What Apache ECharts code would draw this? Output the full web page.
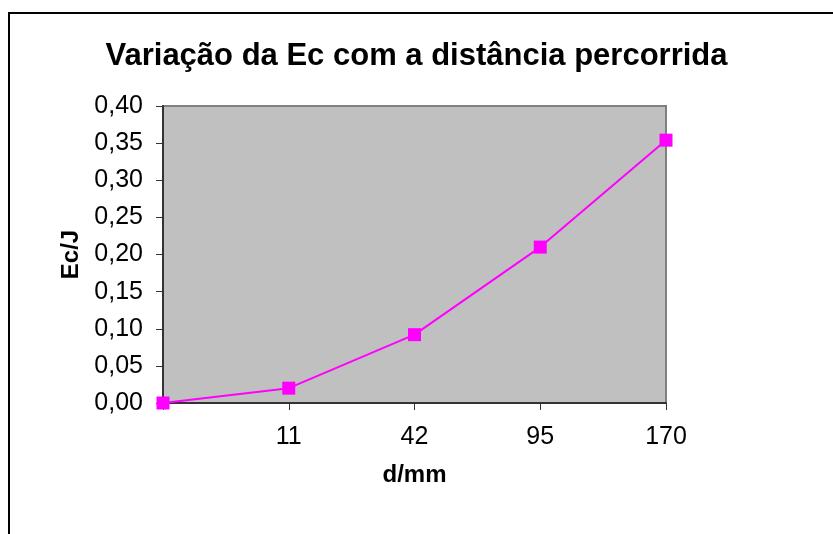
<!DOCTYPE html>
<html><head><meta charset="utf-8">
<script src="https://cdn.jsdelivr.net/npm/echarts@6/dist/echarts.min.js"></script>
<style>html,body{margin:0;padding:0;background:#fff}#c{width:833px;height:534px}</style>
</head><body><div id="c"></div>
<script>
const categories = ["", "11", "42", "95", "170"];
const ecValues = [0.0, 0.020, 0.092, 0.210, 0.354];
const titleText = "Variação da Ec com a distância percorrida";
const xName = "d/mm";
const yName = "Ec/J";

const chart = echarts.init(document.getElementById('c'), null, {renderer: 'canvas'});
const font = "'Liberation Sans', Arial, sans-serif";
chart.setOption({
  animation: false,
  backgroundColor: '#fff',
  title: {
    text: titleText, left: 'center', top: 36,
    textStyle: {fontFamily: font, fontSize: 31, fontWeight: 'bold', color: '#000'}
  },
  grid: {left: 163, top: 106, width: 503, height: 297, show: true,
    backgroundColor: '#c0c0c0', borderColor: '#808080', borderWidth: 2},
  xAxis: {
    type: 'category', data: categories, boundaryGap: false,
    name: xName, nameLocation: 'middle', nameGap: 60,
    nameTextStyle: {fontFamily: font, fontSize: 24, fontWeight: 'bold', color: '#000'},
    axisLine: {lineStyle: {color: '#333', width: 2}},
    axisTick: {show: true, length: 7, lineStyle: {color: '#333'}},
    axisLabel: {fontFamily: font, fontSize: 25, color: '#000', margin: 22, interval: 0},
    splitLine: {show: false}
  },
  yAxis: {
    type: 'value', min: 0, max: 0.4, interval: 0.05,
    name: yName, nameLocation: 'middle', nameGap: 38,
    nameTextStyle: {fontFamily: font, fontSize: 24, fontWeight: 'bold', color: '#000'},
    axisLine: {show: true, lineStyle: {color: '#333', width: 2}},
    axisTick: {show: true, length: 7, lineStyle: {color: '#333'}},
    axisLabel: {fontFamily: font, fontSize: 25, color: '#000', margin: 20,
      formatter: v => v.toFixed(2).replace('.', ',')},
    splitLine: {show: false}
  },
  series: [{
    type: 'line', data: ecValues,
    symbol: 'rect', symbolSize: 13,
    itemStyle: {color: '#ff00ff'},
    lineStyle: {color: '#ff00ff', width: 2},
    clip: false
  }],
  graphic: [{
    type: 'polyline', silent: true,
    shape: {points: [[9, 534], [9, 13], [833, 13]]},
    style: {stroke: '#000', lineWidth: 2, fill: null}
  }]
});
</script></body></html>
